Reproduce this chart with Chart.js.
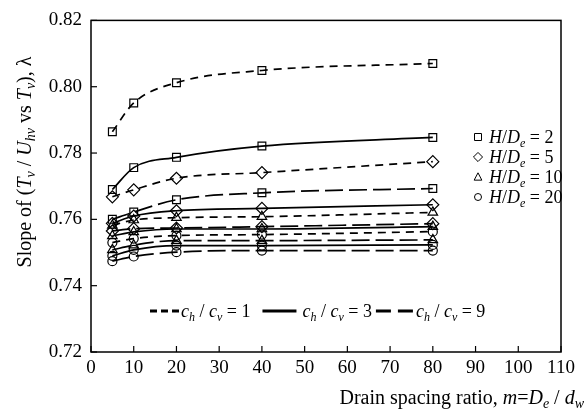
<!DOCTYPE html>
<html>
<head>
<meta charset="utf-8">
<script src="https://cdn.jsdelivr.net/npm/chart.js@4.4.1/dist/chart.umd.min.js"></script>
<style>
  html, body { margin: 0; padding: 0; background: #fff; }
  #wrap { width: 587px; height: 411px; }
</style>
</head>
<body>
<div id="wrap"><canvas id="slopeChart" width="587" height="411"></canvas></div>
<script>
"use strict"

// drain spacing ratio m (x values)
const spacingRatio = [5, 10, 20, 40, 80];
const xTicks = [0, 10, 20, 30, 40, 50, 60, 70, 80, 90, 100, 110];
const yTicks = [0.72, 0.74, 0.76, 0.78, 0.80, 0.82];

// slope lambda, one array per H/De and ch/cv
const h2c1 = [0.7864, 0.7951, 0.8012, 0.8049, 0.8070];
const h2c3 = [0.7690, 0.7756, 0.7787, 0.7821, 0.7847];
const h2c9 = [0.7600, 0.7622, 0.7659, 0.7680, 0.7693];
const h5c1 = [0.7668, 0.7689, 0.7724, 0.7741, 0.7774];
const h5c3 = [0.7588, 0.7610, 0.7626, 0.7633, 0.7644];
const h5c9 = [0.7565, 0.7572, 0.7574, 0.7578, 0.7587];
const h10c1 = [0.7582, 0.7598, 0.7605, 0.7608, 0.7621];
const h10c3 = [0.7550, 0.7562, 0.7571, 0.7571, 0.7578];
const h10c9 = [0.7508, 0.7522, 0.7536, 0.7536, 0.7538];
const h20c1 = [0.7530, 0.7542, 0.7551, 0.7554, 0.7563];
const h20c3 = [0.7490, 0.7508, 0.7521, 0.7521, 0.7523];
const h20c9 = [0.7474, 0.7488, 0.7501, 0.7506, 0.7506];

const hdeValues = [2, 5, 10, 20];
const ratioValues = [1, 3, 9];

const series = [
    [2, 1, h2c1], [2, 3, h2c3], [2, 9, h2c9],
    [5, 1, h5c1], [5, 3, h5c3], [5, 9, h5c9],
    [10, 1, h10c1], [10, 3, h10c3], [10, 9, h10c9],
    [20, 1, h20c1], [20, 3, h20c3], [20, 9, h20c9],
];

const markerStyle = { 2: 'rect', 5: 'rectRot', 10: 'triangle', 20: 'circle' };
const markerSize = { 2: 5.5, 5: 6, 10: 5.5, 20: 4.5 };
const dashFor = { 1: [8, 6], 3: [], 9: [18, 6] };

const FONT = "'Liberation Serif', 'Times New Roman', serif";

const datasets = series.map(([hde, ratio, vals]) => ({
    label: 'H/De=' + hde + ' ch/cv=' + ratio,
    data: spacingRatio.map((m, i) => ({ x: m, y: vals[i] })),
    borderColor: '#000',
    borderWidth: 1.7,
    borderDash: dashFor[ratio],
    backgroundColor: 'rgba(0,0,0,0)',
    pointStyle: markerStyle[hde],
    pointRadius: markerSize[hde],
    pointBorderWidth: 1.2,
    pointBorderColor: '#000',
    pointBackgroundColor: 'rgba(0,0,0,0)',
    cubicInterpolationMode: 'monotone',
    fill: false,
}));

// draw text made of pieces: [text, italic, sub]
function pieceFont(p, size) {
    const s = p[2] ? Math.round(size * 0.68) : size;
    return (p[1] ? 'italic ' : '') + s + 'px ' + FONT;
}
function piecesWidth(ctx, pieces, size) {
    let w = 0;
    pieces.forEach(p => { ctx.font = pieceFont(p, size); w += ctx.measureText(p[0]).width; });
    return w;
}
function drawPieces(ctx, pieces, x, y, size) {
    ctx.textBaseline = 'alphabetic';
    ctx.textAlign = 'left';
    pieces.forEach(p => {
        ctx.font = pieceFont(p, size);
        ctx.fillText(p[0], x, p[2] ? y + size * 0.22 : y);
        x += ctx.measureText(p[0]).width;
    });
    return x;
}

function drawSymbol(ctx, style, x, y, r) {
    ctx.beginPath();
    if (style === 'rect') {
        ctx.rect(x - r, y - r, 2 * r, 2 * r);
    } else if (style === 'rectRot') {
        ctx.moveTo(x, y - r * 1.3); ctx.lineTo(x + r * 1.3, y);
        ctx.lineTo(x, y + r * 1.3); ctx.lineTo(x - r * 1.3, y); ctx.closePath();
    } else if (style === 'triangle') {
        ctx.moveTo(x, y - r * 1.2); ctx.lineTo(x + r * 1.1, y + r * 0.9);
        ctx.lineTo(x - r * 1.1, y + r * 0.9); ctx.closePath();
    } else {
        ctx.arc(x, y, r, 0, Math.PI * 2);
    }
    ctx.stroke();
}

const framePlugin = {
    id: 'frame',
    afterDraw(chart) {
        const ctx = chart.ctx;
        const a = chart.chartArea;
        const xs = chart.scales.x, ys = chart.scales.y;
        ctx.save();
        ctx.strokeStyle = '#000';
        ctx.fillStyle = '#000';
        ctx.lineWidth = 1.5;
        ctx.setLineDash([]);
        ctx.strokeRect(a.left, a.top, a.right - a.left, a.bottom - a.top);
        ctx.lineWidth = 1.2;
        xTicks.forEach(v => {
            const px = xs.getPixelForValue(v);
            ctx.beginPath(); ctx.moveTo(px, a.bottom); ctx.lineTo(px, a.bottom - 6); ctx.stroke();
        });
        yTicks.forEach(v => {
            const py = ys.getPixelForValue(v);
            ctx.beginPath(); ctx.moveTo(a.left, py); ctx.lineTo(a.left + 6, py); ctx.stroke();
        });

        // axis titles
        const xt = [['Drain spacing ratio, ', false, false], ['m', true, false], ['=', false, false],
            ['D', true, false], ['e', true, true], [' / ', false, false], ['d', true, false], ['w', true, true]];
        const xw = piecesWidth(ctx, xt, 20);
        drawPieces(ctx, xt, 584 - xw, 404, 20);

        const yt = [['Slope of (', false, false], ['T', true, false], ['v', true, true], [' / ', false, false],
            ['U', true, false], ['hv', true, true], [' vs ', false, false], ['T', true, false], ['v', true, true],
            ['), \u03bb', false, false]];
        const yw = piecesWidth(ctx, yt, 20);
        ctx.save();
        ctx.translate(31, 162);
        ctx.rotate(-Math.PI / 2);
        drawPieces(ctx, yt, -yw / 2, 0, 20);
        ctx.restore();

        // marker legend
        ctx.lineWidth = 1;
        hdeValues.forEach((h, i) => {
            const cy = 137 + i * 20;
            drawSymbol(ctx, markerStyle[h], 478, cy, 3.5);
            drawPieces(ctx, [['H', true, false], ['/', false, false], ['D', true, false], ['e', true, true],
                [' = ' + h, false, false]], 489, cy + 6, 18);
        });

        // line style legend
        let lx = 150;
        const ly = 311;
        ctx.lineWidth = 3.2;
        ratioValues.forEach(r => {
            ctx.beginPath();
            if (r === 1) { ctx.setLineDash([7, 4]); ctx.moveTo(lx, ly); ctx.lineTo(lx + 29, ly); lx += 31; }
            else if (r === 3) { ctx.setLineDash([]); lx += 8; ctx.moveTo(lx, ly); ctx.lineTo(lx + 34, ly); lx += 40; }
            else { ctx.setLineDash([15, 7]); ctx.moveTo(lx, ly); ctx.lineTo(lx + 37, ly); lx += 40; }
            ctx.stroke();
            ctx.setLineDash([]);
            lx = drawPieces(ctx, [['c', true, false], ['h', true, true], [' / ', false, false], ['c', true, false],
                ['v', true, true], [' = ' + r, false, false]], lx, ly + 6, 18);
            lx += 4;
        });
        ctx.restore();
    }
};

new Chart(document.getElementById('slopeChart'), {
    type: 'line',
    data: { datasets: datasets },
    options: {
        responsive: false,
        devicePixelRatio: 1,
        animation: false,
        layout: { padding: { top: 19, right: 26, left: 0, bottom: 0 } },
        plugins: { legend: { display: false }, tooltip: { enabled: false } },
        scales: {
            x: {
                type: 'linear',
                min: 0,
                max: 110,
                afterBuildTicks: s => { s.ticks = xTicks.map(v => ({ value: v })); },
                afterFit: s => { s.height = 59; },
                grid: { display: false, drawTicks: false },
                border: { display: false },
                ticks: { color: '#000', padding: 5, font: { family: FONT, size: 19 }, maxRotation: 0, autoSkip: false },
            },
            y: {
                min: 0.72,
                max: 0.82,
                afterBuildTicks: s => { s.ticks = yTicks.map(v => ({ value: v })); },
                afterFit: s => { s.width = 91; },
                grid: { display: false, drawTicks: false },
                border: { display: false },
                ticks: { color: '#000', padding: 9, font: { family: FONT, size: 19 },
                    callback: v => Number(v).toFixed(2) },
            },
        },
    },
    plugins: [framePlugin],
});
</script>
</body>
</html>
